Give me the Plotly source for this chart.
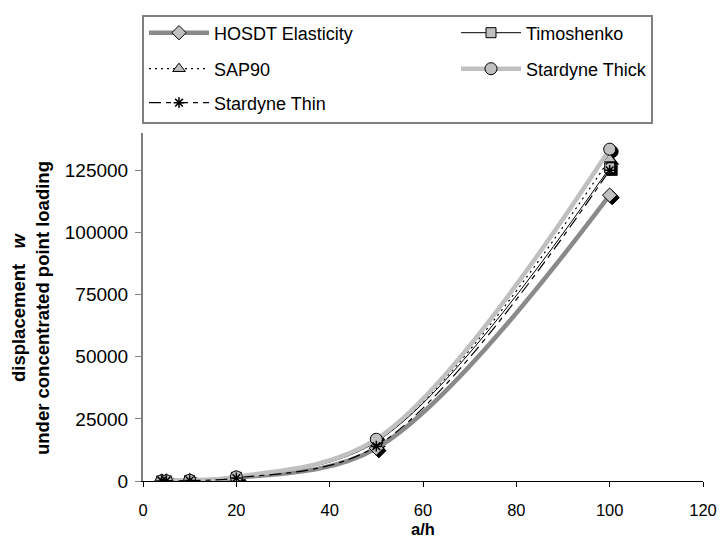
import plotly.graph_objects as go

# ---- data ----
a_h = [4, 5, 10, 20, 50, 100]
hosdt = [25, 40, 210, 1250, 13200, 115000]
timoshenko = [30, 50, 250, 1500, 15800, 126000]
sap90 = [30, 50, 260, 1550, 16000, 129500]
stardyne_thick = [35, 60, 290, 1650, 16800, 133500]
stardyne_thin = [20, 35, 190, 1200, 14000, 125000]

x_ticks = [0, 20, 40, 60, 80, 100, 120]
y_ticks = [0, 25000, 50000, 75000, 100000, 125000]
x_range = [0, 120]
y_range = [0, 140000]

# ---- layout geometry ----
W, H = 720, 548
ML, MR, MT, MB = 143, 17, 133, 67
PW, PH = W - ML - MR, H - MT - MB
SH = 2.5  # marker shadow offset in px
sx = SH * (x_range[1] - x_range[0]) / PW
sy = SH * (y_range[1] - y_range[0]) / PH

FONT = "Liberation Sans, Arial, sans-serif"

# legend slot for each series: (left px, row centre px)
series = [
    dict(name="HOSDT Elasticity", y=hosdt, color="#8a8a8a", width=4.5, dash="solid",
         symbol="diamond", msize=11, legend="legend", pos=(144, 33)),
    dict(name="Timoshenko", y=timoshenko, color="#000000", width=1, dash="solid",
         symbol="square", msize=10, legend="legend2", pos=(456, 33)),
    dict(name="SAP90", y=sap90, color="#000000", width=1.2, dash="2px,4px",
         symbol="triangle-up", msize=11, legend="legend3", pos=(144, 69)),
    dict(name="Stardyne Thick", y=stardyne_thick, color="#c0c0c0", width=4.5, dash="solid",
         symbol="circle", msize=12, legend="legend4", pos=(456, 69)),
    dict(name="Stardyne Thin", y=stardyne_thin, color="#000000", width=1.2, dash="12px,5px,5px,5px",
         symbol="asterisk-open", msize=9, legend="legend5", pos=(144, 103)),
]

fig = go.Figure()

# shadows (base axes, shifted by a few pixels)
for s in series:
    if s["symbol"].startswith("asterisk"):
        continue
    fig.add_trace(go.Scatter(
        x=a_h, y=s["y"], mode="markers", xaxis="x", yaxis="y",
        marker=dict(symbol=s["symbol"], size=s["msize"], color="#000000",
                    line=dict(color="#000000", width=1)),
        showlegend=False, hoverinfo="skip"))

# main series
for s in series:
    if s["symbol"].startswith("asterisk"):
        marker = dict(symbol=s["symbol"], size=s["msize"], color="#000000",
                      line=dict(color="#000000", width=1.5))
    else:
        marker = dict(symbol=s["symbol"], size=s["msize"], color="#c0c0c0",
                      line=dict(color="#000000", width=1))
    fig.add_trace(go.Scatter(
        x=a_h, y=s["y"], name=s["name"], mode="lines+markers",
        xaxis="x2", yaxis="y2", legend=s["legend"],
        line=dict(color=s["color"], width=s["width"], dash=s["dash"],
                  shape="spline", smoothing=1),
        marker=marker))

legends = {}
for s in series:
    lx, ly = s["pos"]
    legends[s["legend"]] = dict(
        orientation="h", xref="container", yref="container",
        xanchor="left", yanchor="middle", x=lx / W, y=1 - ly / H,
        bgcolor="rgba(0,0,0,0)", borderwidth=0,
        font=dict(family=FONT, size=18, color="#000000"),
        itemwidth=60, itemclick=False, itemdoubleclick=False,
    )

fig.update_layout(
    width=W, height=H,
    margin=dict(l=ML, r=MR, t=MT, b=MB, autoexpand=False),
    paper_bgcolor="white", plot_bgcolor="white",
    font=dict(family=FONT, color="#000000"),
    showlegend=True,
    xaxis=dict(range=[x_range[0] - sx, x_range[1] - sx], visible=False, fixedrange=True),
    yaxis=dict(range=[y_range[0] + sy, y_range[1] + sy], visible=False, fixedrange=True),
    xaxis2=dict(
        overlaying="x", anchor="y2", side="bottom", range=x_range, automargin=False,
        tickvals=x_ticks, ticktext=[str(v) for v in x_ticks],
        showgrid=False, zeroline=False, showline=True, linecolor="#000000", linewidth=1,
        ticks="outside", ticklen=5, tickcolor="#000000", ticklabelstandoff=9,
        tickfont=dict(family=FONT, size=16.5, color="#000000"),
        title=dict(text="<b>a/h</b>", font=dict(family=FONT, size=16.5, color="#000000"), standoff=5),
    ),
    yaxis2=dict(
        overlaying="y", anchor="x2", side="left", range=y_range, automargin=False,
        tickvals=y_ticks, ticktext=[str(v) for v in y_ticks],
        showgrid=False, zeroline=False, showline=True, linecolor="#808080", linewidth=2,
        ticks="outside", ticklen=6, tickcolor="#808080", ticklabelstandoff=3,
        tickfont=dict(family=FONT, size=19, color="#000000"),
    ),
    annotations=[dict(
        text="<b>displacement   <i>w</i><br>under concentrated point loading</b>",
        xref="paper", yref="paper", x=0, y=(H - MB - 308) / PH, xshift=30 - ML,
        xanchor="center", yanchor="middle", textangle=-90, showarrow=False,
        font=dict(family=FONT, size=18.5, color="#000000"))],
    shapes=[dict(type="rect", xref="paper", yref="paper",
                 x0=(143 - ML) / PW, x1=(652 - ML) / PW,
                 y0=1 + (MT - 123) / PH, y1=1 + (MT - 16) / PH,
                 line=dict(color="#808080", width=2), fillcolor="rgba(0,0,0,0)", layer="below")],
    **legends,
)

fig.write_html("out.html", config={"displayModeBar": False})
